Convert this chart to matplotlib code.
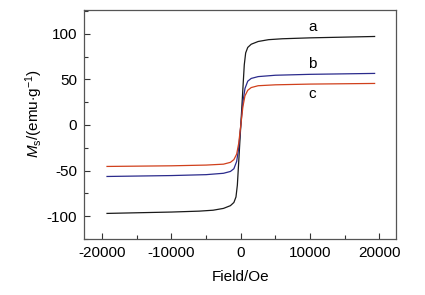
import numpy as np
import matplotlib
matplotlib.use('Agg')
import matplotlib.pyplot as plt
from matplotlib.ticker import MultipleLocator

plt.rcParams.update({
    'font.family': ['Liberation Sans', 'DejaVu Sans'],
    'mathtext.fontset': 'custom',
    'mathtext.rm': 'Liberation Sans',
    'mathtext.it': 'Liberation Sans:italic',
    'font.size': 11,
    'axes.unicode_minus': False,
})

# --- datos ---
campo_a = [-19300, -15000, -10000, -6000, -4000, -2500, -1500, -1000, -700, -500, -300, 0,
           300, 500, 700, 1000, 1500, 2500, 4000, 6000, 10000, 15000, 19300]
mag_a = [-97, -96.3, -95.5, -94.5, -93.5, -91.5, -88.5, -85, -79, -66, -40, 0,
         40, 66, 79, 85, 88.5, 91.5, 93.5, 94.5, 95.5, 96.3, 97]

campo_b = [-19300, -10000, -5000, -2500, -1500, -1000, -600, -300, 0,
           300, 600, 1000, 1500, 2500, 5000, 10000, 19300]
mag_b = [-56.5, -55.5, -54.5, -53, -51, -48, -40, -25, 0,
         25, 40, 48, 51, 53, 54.5, 55.5, 56.5]

campo_c = [-19300, -10000, -5000, -2500, -1500, -1000, -600, -300, 0,
           300, 600, 1000, 1500, 2500, 5000, 10000, 19300]
mag_c = [-45.5, -44.8, -44, -43, -41, -38, -32, -20, 0,
         20, 32, 38, 41, 43, 44, 44.8, 45.5]

etiquetas = ['a', 'b', 'c']
pos_etiquetas = [(10300, 107), (10300, 67), (10300, 34)]

fig = plt.figure(figsize=(4.25, 2.95), dpi=100)
ax = fig.add_axes([0.198, 0.19, 0.734, 0.776])

ax.plot(campo_a, mag_a, color='#1a1a1a', lw=0.9)
ax.plot(campo_b, mag_b, color='#2b2b8c', lw=0.9)
ax.plot(campo_c, mag_c, color='#d0401c', lw=0.9)

for txt, (x, y) in zip(etiquetas, pos_etiquetas):
    ax.text(x, y, txt, ha='center', va='center', fontsize=11)

ax.set_xlim(-22600, 22400)
ax.set_ylim(-125, 126)
ax.xaxis.set_major_locator(MultipleLocator(10000))
ax.xaxis.set_minor_locator(MultipleLocator(5000))
ax.yaxis.set_major_locator(MultipleLocator(50))
ax.yaxis.set_minor_locator(MultipleLocator(25))
ax.tick_params(which='both', direction='in', top=False, right=False,
               color='#333333', width=0.8, labelsize=11)
ax.tick_params(which='major', length=4.5, pad=5)
ax.tick_params(which='minor', length=3)
for s in ax.spines.values():
    s.set_color('#555555')
    s.set_linewidth(0.9)

ax.set_xlabel('Field/Oe', fontsize=11, labelpad=7)
ax.set_ylabel(r'$M_{\rm s}$/(emu$\cdot$g$^{-1}$)', fontsize=11)
ax.yaxis.set_label_coords(-0.125, 0.55)

fig.savefig('out.png', dpi=100)
